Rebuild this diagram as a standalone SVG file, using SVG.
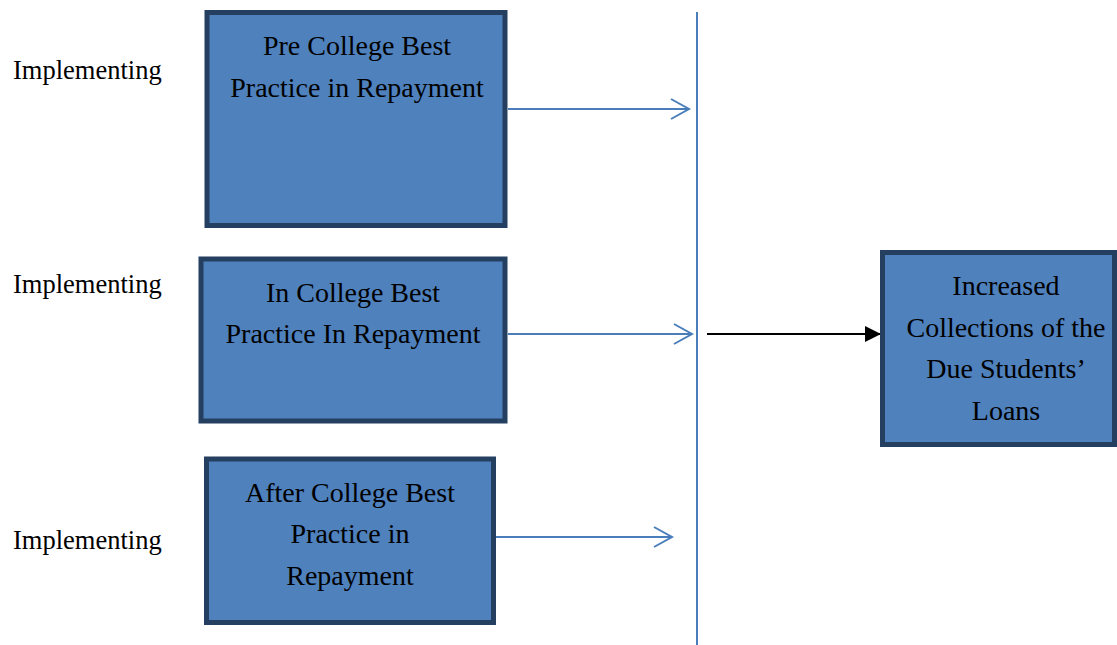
<svg xmlns="http://www.w3.org/2000/svg" width="1117" height="645" viewBox="0 0 1117 645">
<style>
.box{fill:#4f81bd;stroke:#243f60;stroke-width:5}
.t{font-family:"Liberation Serif","Times New Roman",serif;font-size:28px;fill:#000;text-anchor:middle}
.lbl{font-family:"Liberation Serif","Times New Roman",serif;font-size:26.5px;fill:#000}
.blue{stroke:#4a7ebb;stroke-width:2;fill:none}
</style>
<defs>
<marker id="chev" markerUnits="userSpaceOnUse" markerWidth="24" markerHeight="24" refX="19" refY="11" orient="auto">
<path d="M1,1 L19,11 L1,21" fill="none" stroke="#4a7ebb" stroke-width="2"/>
</marker>
<marker id="tri" markerUnits="userSpaceOnUse" markerWidth="18" markerHeight="18" refX="16" refY="9" orient="auto">
<path d="M0,1 L16,9 L0,17 Z" fill="#000"/>
</marker>
</defs>
<rect width="1117" height="645" fill="#fff"/>
<g id="labels">
<text class="lbl" x="13" y="79">Implementing</text>
<text class="lbl" x="13" y="293">Implementing</text>
<text class="lbl" x="13" y="549">Implementing</text>
</g>
<g id="connectors">
<line class="blue" x1="697" y1="12" x2="697" y2="645"/>
<line class="blue" x1="508" y1="109" x2="689" y2="109" marker-end="url(#chev)"/>
<line class="blue" x1="508" y1="334" x2="692" y2="334" marker-end="url(#chev)"/>
<line class="blue" x1="496" y1="537" x2="672" y2="537" marker-end="url(#chev)"/>
<line x1="707" y1="334" x2="881" y2="334" stroke="#000" stroke-width="2" marker-end="url(#tri)"/>
</g>
<g id="pre">
<rect class="box" x="207" y="12.5" width="298" height="213"/>
<text class="t" x="357" y="55">Pre College Best</text>
<text class="t" x="357" y="97">Practice in Repayment</text>
</g>
<g id="in">
<rect class="box" x="201" y="259" width="304" height="162"/>
<text class="t" x="353" y="302">In College Best</text>
<text class="t" x="353" y="343">Practice In Repayment</text>
</g>
<g id="after">
<rect class="box" x="206.5" y="459" width="287" height="163.5"/>
<text class="t" x="350" y="502">After College Best</text>
<text class="t" x="350" y="543">Practice in</text>
<text class="t" x="350" y="585">Repayment</text>
</g>
<g id="result">
<rect class="box" x="882.5" y="252.5" width="232" height="192"/>
<text class="t" x="1006" y="295">Increased</text>
<text class="t" x="1006" y="337">Collections of the</text>
<text class="t" x="1006" y="378">Due Students’</text>
<text class="t" x="1006" y="420">Loans</text>
</g>
</svg>
